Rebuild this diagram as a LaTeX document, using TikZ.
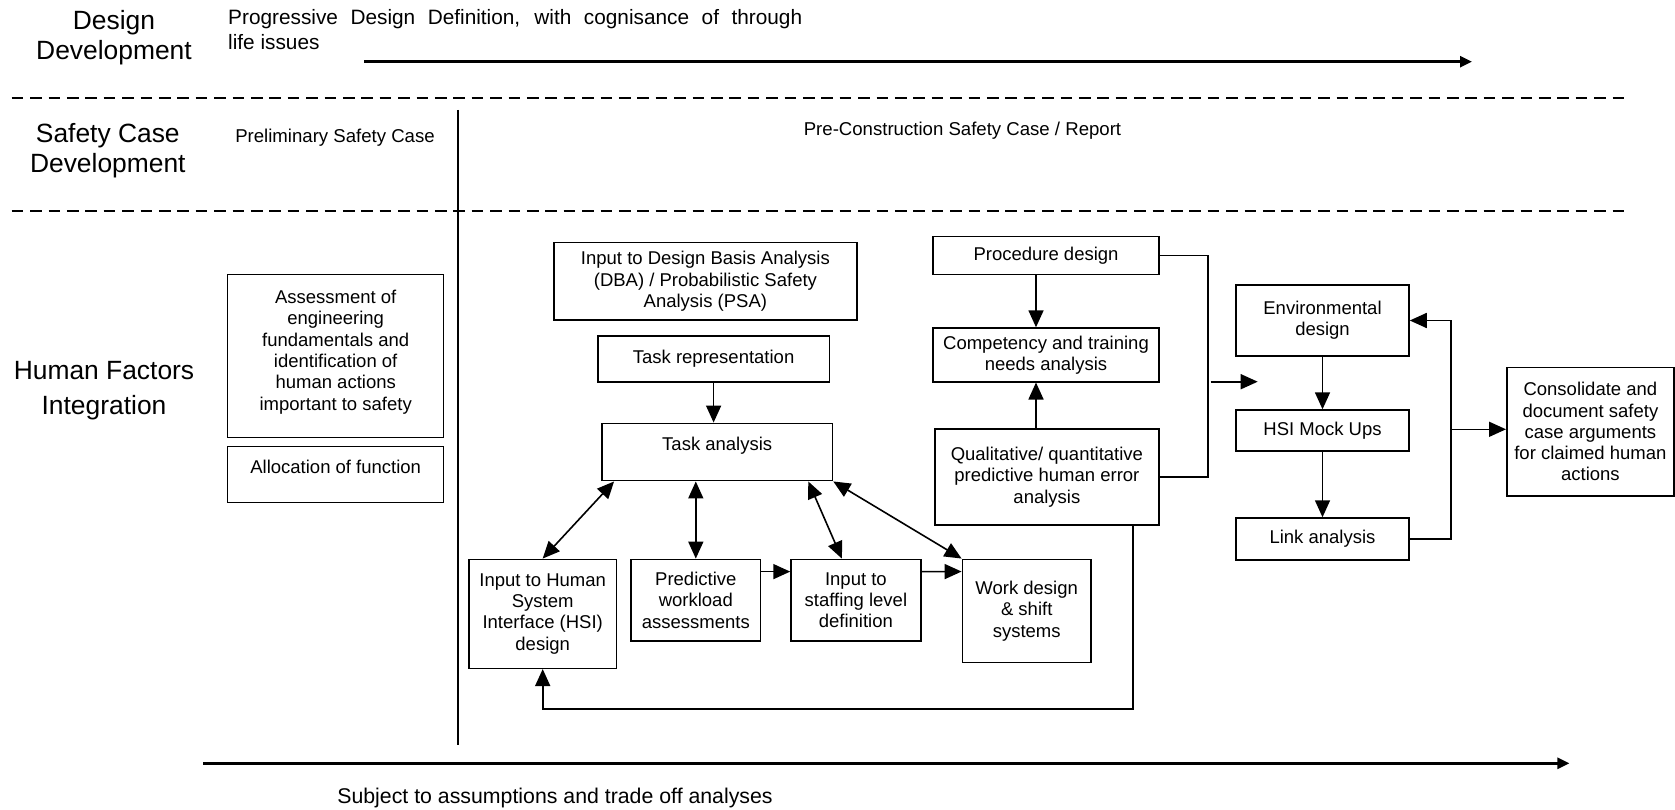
\documentclass[tikz,border=0pt]{standalone}
\usepackage{fontspec}
\setmainfont{Liberation Sans}
\usetikzlibrary{arrows.meta}

\begin{document}
\begin{tikzpicture}[x=1pt, y=-1pt,
    box/.style={draw, line width=1.5pt, align=center, inner sep=0pt,
      font=\fontsize{18.5pt}{21.3pt}\selectfont},
    lane/.style={align=center, font=\fontsize{26.4pt}{30pt}\selectfont},
    note/.style={font=\fontsize{18.6pt}{22pt}\selectfont},
    lanesep/.style={line width=2pt, dash pattern=on 11.7pt off 6.7pt},
    wire/.style={line width=1.6pt},
    arr/.style={line width=1.6pt, -{Triangle[length=17pt,width=15pt]}},
    darr/.style={line width=1.6pt, {Triangle[length=17pt,width=15pt]}-{Triangle[length=17pt,width=15pt]}},
    phase/.style={line width=2.7pt, -{Triangle[length=12pt,width=11pt]}}]
  \useasboundingbox (0,0) rectangle (1675,810);

  % design development lane
  \node[lane] (dd) at (114,37.6) {Design\\Development};
  \node[anchor=west, align=left, inner sep=0pt,
    font=\fontsize{20.8pt}{25pt}\selectfont] (prog) at (228,29.1)
    {\makebox[574pt][s]{Progressive Design Definition, with cognisance of through}\\life issues};
  \coordinate (dstart) at (364,61.7);
  \coordinate (dend) at (1472,61.7);
  \draw[phase] (dstart) -- (dend);

  % lane separators
  \coordinate (s1a) at (11.7,97.7);
  \coordinate (s1b) at (1626,97.7);
  \coordinate (s2a) at (11.7,211.5);
  \coordinate (s2b) at (1626,211.5);
  \draw[lanesep] (s1a) -- (s1b);
  \draw[lanesep] (s2a) -- (s2b);

  % safety case lane
  \node[lane] (scd) at (107.8,150.9) {Safety Case\\Development};
  \node[note] (psc) at (335,138) {Preliminary Safety Case};
  \node[note] (pcsc) at (962.5,131) {Pre-Construction Safety Case / Report};
  \coordinate (vtop) at (458,110);
  \coordinate (vbot) at (458,745);
  \draw[line width=2pt] (vtop) -- (vbot);

  % human factors lane
  \node[lane, font=\fontsize{26.4pt}{35pt}\selectfont] (hfi) at (104,390.3) {Human Factors\\Integration};
  \node[box, minimum width=216pt, minimum height=163pt] (assess) at (335.7,355.8)
    {Assessment of\\engineering\\fundamentals and\\identification of\\human actions\\important to safety\\[-10pt]};
  \node[box, minimum width=216pt, text height=26.6pt, text depth=29pt] (alloc) at (335.7,474.5) {Allocation of function};

  % task analysis group
  \node[box, minimum width=302.7pt, minimum height=77.3pt] (dba) at (705.4,281.4)
    {Input to Design Basis Analysis\\(DBA) / Probabilistic Safety\\Analysis (PSA)};
  \node[box, minimum width=231.7pt, minimum height=45.7pt] (taskrep) at (713.6,358.9) {Task representation};
  \node[box, minimum width=230.7pt, text height=27.6pt, text depth=29.8pt] (ta) at (717.2,452) {Task analysis};
  \node[box, minimum width=147.3pt, minimum height=109pt] (hsi) at (542.7,613.8)
    {Input to Human\\System\\Interface (HSI)\\design};
  \node[box, minimum width=129.5pt, minimum height=81.7pt] (pred) at (695.8,600.2)
    {Predictive\\workload\\assessments};
  \node[box, minimum width=129.8pt, minimum height=81.7pt] (staff) at (855.9,600.2)
    {Input to\\staffing level\\definition};
  \node[box, minimum width=128.7pt, minimum height=103.4pt] (work) at (1026.7,611)
    {Work design\\\& shift\\systems};

  % procedures and training
  \node[box, minimum width=226pt, minimum height=37.6pt] (proc) at (1046,255.5) {Procedure design};
  \node[box, minimum width=226pt, minimum height=53.7pt] (comp) at (1046,354.9)
    {Competency and training\\needs analysis};
  \node[box, minimum width=224.2pt, minimum height=96pt] (qual) at (1046.9,477)
    {Qualitative/ quantitative\\predictive human error\\analysis};

  % hsi chain
  \node[box, minimum width=173pt, minimum height=71pt] (env) at (1322.5,320.5) {Environmental\\design};
  \node[box, minimum width=173pt, minimum height=40.7pt] (mock) at (1322.5,430.4) {HSI Mock Ups};
  \node[box, minimum width=173pt, minimum height=42pt] (link) at (1322.5,539) {Link analysis};
  \node[box, minimum width=167.3pt, minimum height=128.7pt] (cons) at (1590.4,431.7)
    {Consolidate and\\document safety\\case arguments\\for claimed human\\actions};

  % task analysis links
  \draw[arr] (taskrep.south) -- (taskrep.south |- ta.north);
  \draw[darr] ([xshift=13pt]ta.south west) -- (hsi.north);
  \draw[darr] (ta.south -| pred.north) -- (pred.north);
  \draw[darr] ([xshift=-25pt]ta.south east) -- ([xshift=-14pt]staff.north);
  \draw[darr] (ta.south east) -- (work.north west);
  \draw[arr] ([yshift=-13pt]pred.north east) -- ([yshift=-13pt]staff.north west);
  \draw[arr] ([yshift=-13pt]staff.north east) -- ([yshift=-13pt]work.north west);

  % procedure and error analysis links
  \coordinate (cp) at ([xshift=-10pt]comp.north);
  \coordinate (cq) at ([xshift=-10pt]comp.south);
  \draw[arr] (proc.south -| cp) -- (cp);
  \draw[arr] (qual.north -| cq) -- (cq);
  \draw[wire] (proc.east) -- ++(48,0) |- (qual.east);
  \coordinate (brk) at (1210.6,381.7);
  \coordinate (gap) at (1257.7,381.7);
  \draw[arr] (brk) -- (gap);
  \draw[arr] ([xshift=-27pt]qual.south east) -- ++(0,183.3) -| (hsi.south);

  % hsi chain links
  \draw[arr] (env) -- (mock);
  \draw[arr] (mock) -- (link);
  \coordinate (bx) at (1451,429.3);
  \draw[arr] (link.east) -| (bx) |- (env.east);
  \draw[arr] (bx) -- (bx -| cons.west);

  % assumptions
  \coordinate (astart) at (203,763.3);
  \coordinate (aend) at (1569.4,763.3);
  \draw[phase] (astart) -- (aend);
  \node[font=\fontsize{21.3pt}{25pt}\selectfont] (subj) at (555,798) {Subject to assumptions and trade off analyses};
\end{tikzpicture}
\end{document}
